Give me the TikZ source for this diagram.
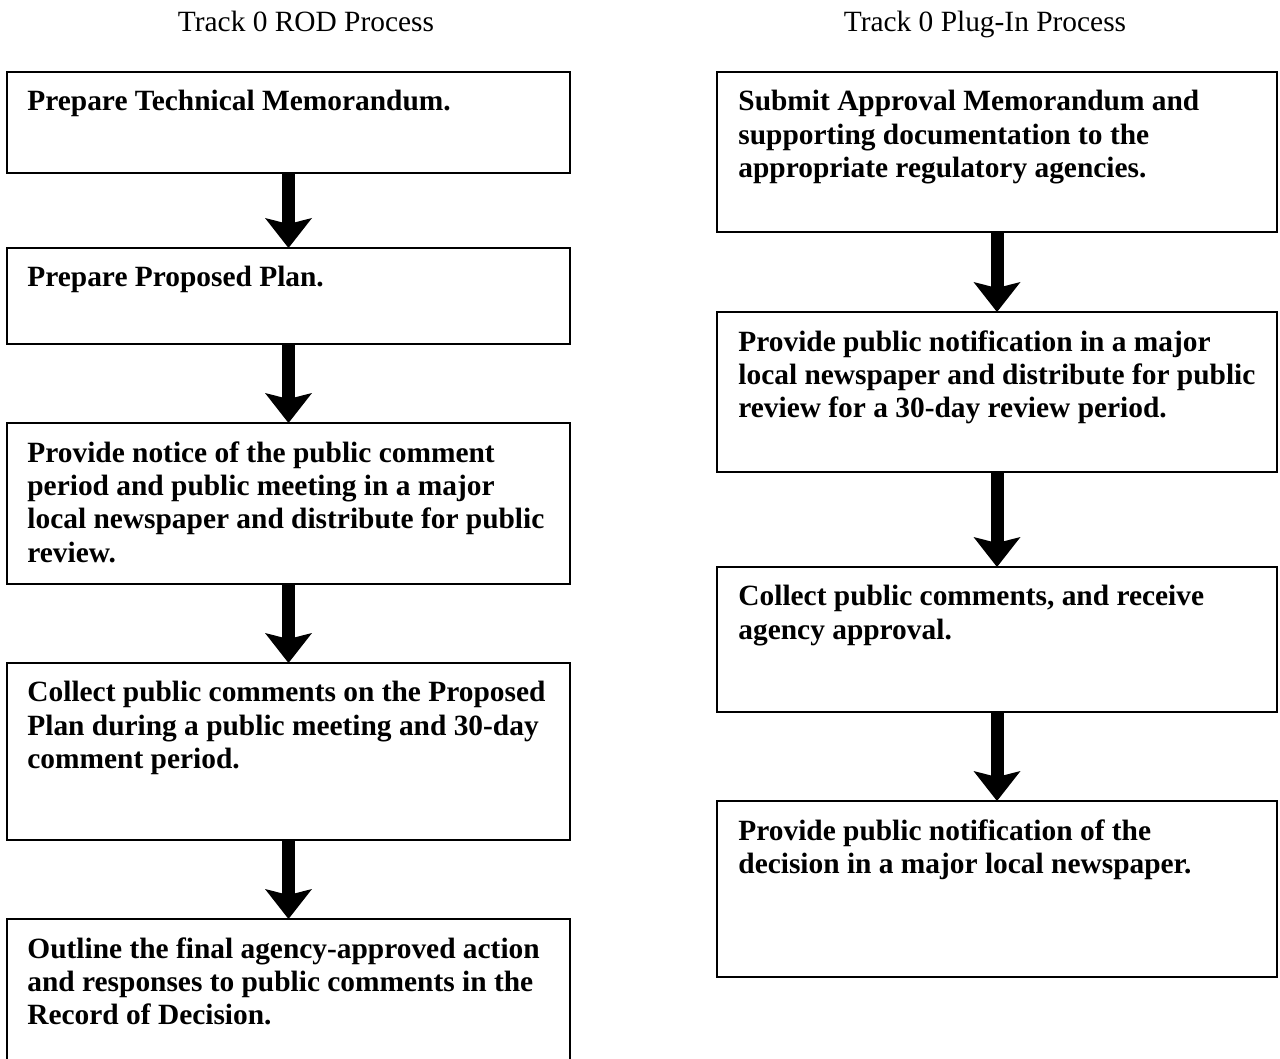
\documentclass[tikz,border=0pt]{standalone}
\usepackage{fontspec}
\setmainfont{Liberation Serif}
\usetikzlibrary{arrows.meta,positioning}

\begin{document}
\begin{tikzpicture}[x=0.5pt, y=0.5pt, font=\fontsize{14.7}{16.65}\selectfont,
stepbox/.style={rectangle, draw, line width=0.9pt, inner sep=0pt, outer sep=0pt},
rodbox/.style={stepbox, minimum width=281.5pt},
plugbox/.style={stepbox, minimum width=280pt},
steptext/.style={anchor=north west, inner sep=0pt, align=left,
      font=\fontsize{14.7}{16.65}\selectfont\bfseries},
flow/.style={-{Stealth[length=15pt, width=23.5pt, inset=3pt, line width=0pt]}, line width=6.5pt},
title/.style={anchor=base, inner sep=0pt}]
 \clip (0,0) rectangle (1280,-1059);

 \node[title] (rodtitle) at (306,-31.7) {Track 0 ROD Process};
 \node[title] (plugtitle) at (985,-31.7) {Track 0 Plug-In Process};

 % ROD column
 \node[rodbox, minimum height=50.5pt] (rod1) at (288.5,-122.5) {};
 \node[rodbox, minimum height=48pt, below of=rod1, node distance=86.75pt] (rod2) {};
 \node[rodbox, minimum height=80.5pt, below of=rod2, node distance=103.75pt] (rod3) {};
 \node[rodbox, minimum height=88.5pt, below of=rod3, node distance=124pt] (rod4) {};
 \node[rodbox, minimum height=90pt, below of=rod4, node distance=128.75pt] (rod5) {};

 \node[steptext] (rod1text) at ([shift={(10pt,-9pt)}]rod1.north west) {Prepare Technical Memorandum.};
 \node[steptext] (rod2text) at ([shift={(10pt,-9pt)}]rod2.north west) {Prepare Proposed Plan.};
 \node[steptext] (rod3text) at ([shift={(10pt,-9pt)}]rod3.north west) {Provide notice of the public comment\\period and public meeting in a major\\local newspaper and distribute for public\\review.};
 \node[steptext] (rod4text) at ([shift={(10pt,-9pt)}]rod4.north west) {Collect public comments on the Proposed\\Plan during a public meeting and 30-day\\comment period.};
 \node[steptext] (rod5text) at ([shift={(10pt,-9pt)}]rod5.north west) {Outline the final agency-approved action\\and responses to public comments in the\\Record of Decision.};

 \draw[flow] (rod1) -- (rod2);
 \draw[flow] (rod2) -- (rod3);
 \draw[flow] (rod3) -- (rod4);
 \draw[flow] (rod4) -- (rod5);

 % Plug-In column
 \node[plugbox, minimum height=80pt] (plug1) at (997,-152) {};
 \node[plugbox, minimum height=80pt, below of=plug1, node distance=120pt] (plug2) {};
 \node[plugbox, minimum height=72.5pt, below of=plug2, node distance=123.75pt] (plug3) {};
 \node[plugbox, minimum height=88pt, below of=plug3, node distance=124.75pt] (plug4) {};

 \node[steptext] (plug1text) at ([shift={(10.5pt,-9pt)}]plug1.north west) {Submit Approval Memorandum and\\supporting documentation to the\\appropriate regulatory agencies.};
 \node[steptext] (plug2text) at ([shift={(10.5pt,-9pt)}]plug2.north west) {Provide public notification in a major\\local newspaper and distribute for public\\review for a 30-day review period.};
 \node[steptext] (plug3text) at ([shift={(10.5pt,-9pt)}]plug3.north west) {Collect public comments, and receive\\agency approval.};
 \node[steptext] (plug4text) at ([shift={(10.5pt,-9pt)}]plug4.north west) {Provide public notification of the\\decision in a major local newspaper.};

 \draw[flow] (plug1) -- (plug2);
 \draw[flow] (plug2) -- (plug3);
 \draw[flow] (plug3) -- (plug4);
\end{tikzpicture}
\end{document}
